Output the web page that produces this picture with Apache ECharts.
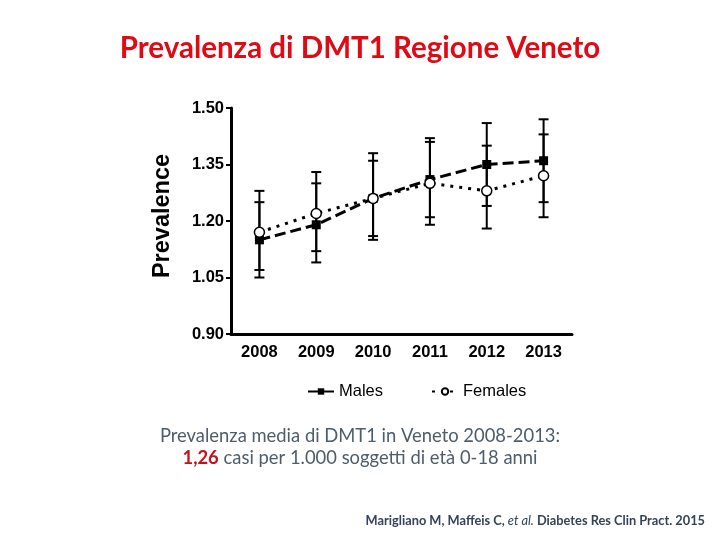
<!DOCTYPE html>
<html>
<head>
<meta charset="utf-8">
<script src="https://cdn.jsdelivr.net/npm/echarts@6/dist/echarts.min.js"></script>
<style>html,body{margin:0;padding:0;background:#fff;}#c{width:720px;height:540px;}</style>
</head>
<body>
<div id="c"></div>
<script>
const years = ['2008','2009','2010','2011','2012','2013'];
const males = [1.15, 1.19, 1.26, 1.31, 1.35, 1.36];
const malesLow = [1.05, 1.09, 1.15, 1.21, 1.24, 1.25];
const malesHigh = [1.25, 1.30, 1.36, 1.42, 1.46, 1.47];
const females = [1.17, 1.22, 1.26, 1.30, 1.28, 1.32];
const femalesLow = [1.07, 1.12, 1.16, 1.19, 1.18, 1.21];
const femalesHigh = [1.28, 1.33, 1.38, 1.41, 1.40, 1.43];
const yTicks = [0.90, 1.05, 1.20, 1.35, 1.50];

const chart = echarts.init(document.getElementById('c'));

function errData(lo, hi) { return years.map((y, i) => [i, lo[i], hi[i]]); }
function errRender(params, api) {
  const x = api.value(0);
  const lo = api.coord([x, api.value(1)]);
  const hi = api.coord([x, api.value(2)]);
  const w = 5;
  const st = { stroke: '#000', lineWidth: 2 };
  return { type: 'group', children: [
    { type: 'line', shape: { x1: lo[0], y1: lo[1], x2: hi[0], y2: hi[1] }, style: st },
    { type: 'line', shape: { x1: lo[0]-w, y1: lo[1], x2: lo[0]+w, y2: lo[1] }, style: st },
    { type: 'line', shape: { x1: hi[0]-w, y1: hi[1], x2: hi[0]+w, y2: hi[1] }, style: st }
  ]};
}

const calibri = 'Lato, "Open Sans", sans-serif';
const arial = '"Liberation Sans", Arial, sans-serif';

chart.setOption({
  animation: false,
  backgroundColor: '#fff',
  title: {
    text: 'Prevalenza di DMT1 Regione Veneto',
    left: 'center', top: 28,
    textStyle: { color: '#e00a14', fontFamily: calibri, fontWeight: 'bold', fontSize: 29.5 }
  },
  legend: {
    left: 302, top: 378,
    itemWidth: 26, itemHeight: 8, itemGap: 48,
    textStyle: { fontFamily: arial, fontSize: 16.5, color: '#000' },
    data: ['Males', 'Females']
  },
  grid: { left: 231, right: 148, top: 108, bottom: 206 },
  xAxis: {
    type: 'category', data: years, boundaryGap: true,
    axisLine: { lineStyle: { color: '#000', width: 3 } },
    axisTick: { alignWithLabel: true, length: 4, lineStyle: { color: '#000', width: 2 } },
    axisLabel: { color: '#000', fontFamily: arial, fontWeight: 'bold', fontSize: 16.5, margin: 10 }
  },
  yAxis: {
    type: 'value', min: 0.90, max: 1.50, interval: 0.15,
    name: 'Prevalence', nameLocation: 'middle', nameGap: 56,
    nameTextStyle: { color: '#000', fontFamily: arial, fontWeight: 'bold', fontSize: 23.5, padding: [0, 0, 0, 10] },
    axisLine: { show: true, lineStyle: { color: '#000', width: 3 } },
    axisTick: { show: true, length: 5, lineStyle: { color: '#000', width: 2 } },
    splitLine: { show: false },
    axisLabel: {
      color: '#000', fontFamily: arial, fontWeight: 'bold', fontSize: 16.5, margin: 7,
      formatter: v => {
        const t = yTicks.find(k => Math.abs(k - v) < 1e-6);
        return (t !== undefined ? t : v).toFixed(2);
      }
    }
  },
  series: [
    { type: 'custom', name: 'errM', data: errData(malesLow, malesHigh), renderItem: errRender, z: 1, silent: true },
    { type: 'custom', name: 'errF', data: errData(femalesLow, femalesHigh), renderItem: errRender, z: 1, silent: true },
    {
      name: 'Males', type: 'line', data: males, z: 3,
      symbol: 'rect', symbolSize: 9,
      itemStyle: { color: '#000' },
      lineStyle: { color: '#000', width: 3, type: [11, 5] }
    },
    {
      name: 'Females', type: 'line', data: females, z: 4,
      symbol: 'circle', symbolSize: 10,
      itemStyle: { color: '#fff', borderColor: '#000', borderWidth: 1.5 },
      lineStyle: { color: '#000', width: 3, type: [3, 6] }
    }
  ],
  graphic: [
    {
      type: 'text', left: 'center', top: 427,
      style: {
        text: 'Prevalenza media di DMT1 in Veneto 2008-2013:',
        fontFamily: calibri, fontSize: 18.4, fill: '#4e5d6c'
      }
    },
    {
      type: 'text', left: 'center', top: 449,
      style: {
        text: '{r|1,26} casi per 1.000 soggetti di età 0-18 anni',
        fontFamily: calibri, fontSize: 18.4, fill: '#4e5d6c',
        rich: { r: { fontFamily: calibri, fontSize: 18.4, fontWeight: 'bold', fill: '#c8101a' } }
      }
    },
    {
      type: 'text', right: 15, top: 514,
      style: {
        text: 'Marigliano M, Maffeis C, {i|et al.} Diabetes Res Clin Pract. 2015',
        fontFamily: calibri, fontSize: 12.8, fontWeight: 'bold', fill: '#33435a',
        rich: { i: { fontFamily: calibri, fontSize: 12.8, fontStyle: 'italic', fontWeight: 'normal', fill: '#33435a' } }
      }
    }
  ]
});
</script>
</body>
</html>
